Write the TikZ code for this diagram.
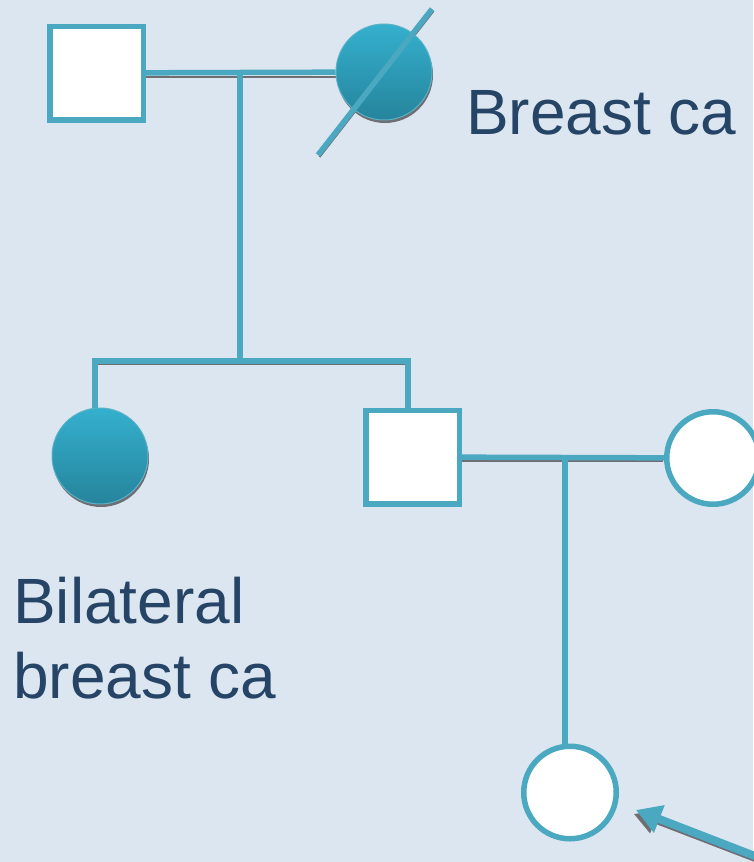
\documentclass[tikz,border=0pt]{standalone}
\usepackage{fontspec}
\setmainfont{Liberation Sans}
\usetikzlibrary{arrows.meta}
\definecolor{bg}{RGB}{220,230,241}
\definecolor{ln}{RGB}{74,168,192}
\definecolor{txt}{RGB}{37,68,102}
\definecolor{ftop}{RGB}{52,176,206}
\definecolor{fbot}{RGB}{38,132,156}
\definecolor{shd}{RGB}{110,110,115}
\tikzset{
  rel/.style={draw=ln, line width=5.5pt},
  relshadow/.style={draw=shd, line width=2pt},
  male/.style={rectangle, draw=ln, fill=white, line width=5.5pt, minimum size=93.5pt, inner sep=0pt},
  female/.style={circle, draw=ln, fill=white, line width=5.5pt, minimum size=92.5pt, inner sep=0pt},
  affected/.style={circle, top color=ftop, bottom color=fbot, draw=ln!90!white, line width=1pt, minimum size=96pt, inner sep=0pt},
  lab/.style={text=txt, font=\fontsize{64}{74}\selectfont, inner sep=0pt, anchor=base west},
}
\begin{document}
\begin{tikzpicture}[x=1pt,y=-1pt]
\fill[bg] (0,0) rectangle (753,862);
\useasboundingbox (0,0) rectangle (753,862);
% coordinates
\coordinate (m1) at (240,74);
\coordinate (s1) at (240,361);
\coordinate (sl) at (95,361);
\coordinate (sr) at (408,361);
\coordinate (m2) at (565,458);
\coordinate (arrtail) at (760,858);
\coordinate (arrtip) at (636,810);
\coordinate (slA) at (318,155);
\coordinate (slB) at (432,9);
% shadows of lines
\draw[relshadow] ([yshift=-3pt]146,74) -- ([yshift=-3pt]336,74);
\draw[relshadow] ([yshift=-3pt]95,361) -- ([yshift=-3pt]408,361);
\draw[relshadow] ([yshift=-3pt]462,458) -- ([yshift=-3pt]663,458);
\draw[relshadow] ([xshift=1.5pt,yshift=-2pt]slA) -- ([xshift=1.5pt,yshift=-2pt]slB);
\fill[shd] (101,459) circle (48pt);
\fill[shd] (385,75) circle (48pt);
% individuals
\node[male] (gf) at (96.5,73) {};
\node[affected] (gm) at (384,72) {};
\node[affected] (aunt) at (100,456) {};
\node[male] (fa) at (412.5,457) {};
\node[female] (mo) at (713,458) {};
\node[female] (pb) at (570,792.5) {};
% connectors
\draw[rel] (gf) -- (gm);
\draw[rel] (m1) -- (s1);
\draw[rel, line cap=rect] (sl) -- (sr);
\draw[rel] (sl) -- (sl |- aunt.north);
\draw[rel] (sr) -- (sr |- fa.north);
\draw[rel] (fa) -- (mo);
\draw[rel] (m2) -- (m2 |- pb.north);
\draw[rel] (slA) -- (slB);
% arrow
\draw[shd, line width=3pt, -{Triangle[width=24pt,length=22pt]}] ([xshift=-1pt,yshift=-4pt]arrtail) -- ([xshift=-2pt,yshift=-4pt]arrtip);
\draw[ln, line width=8pt, -{Triangle[width=28pt,length=25pt]}] (arrtail) -- (arrtip);
% labels
\node[lab] (l1) at (466,134) {Breast ca};
\node[lab] (l2) at (13,623) {Bilateral};
\node[lab] (l3) at (13,698) {breast ca};
\end{tikzpicture}
\end{document}
